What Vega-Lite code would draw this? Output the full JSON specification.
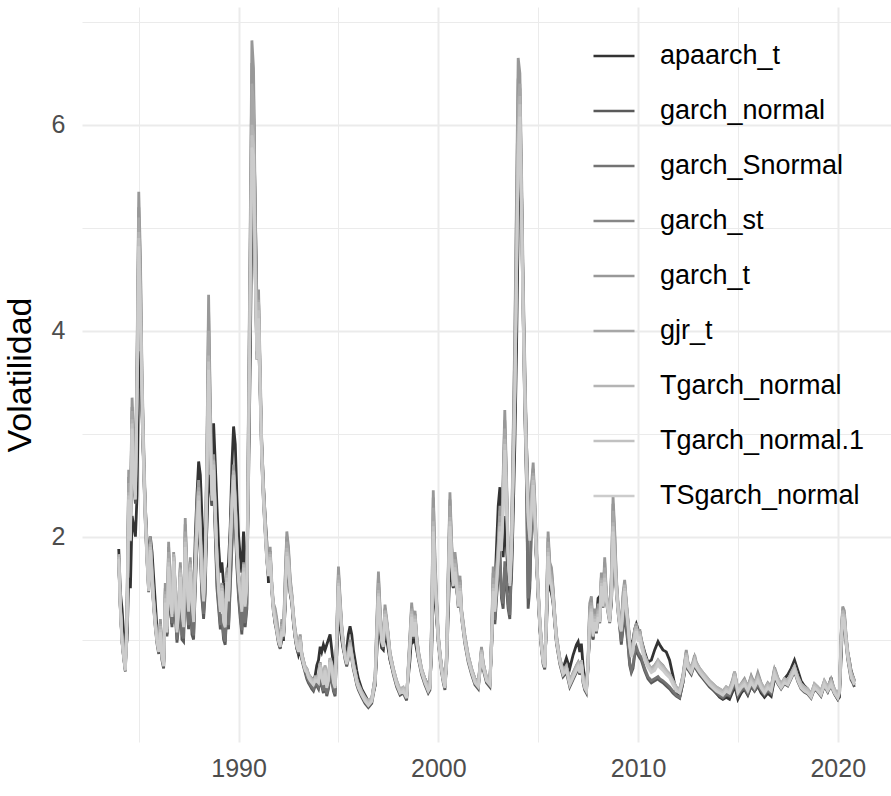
{
"$schema":"https://vega.github.io/schema/vega-lite/v6.json",
"width":809,"height":735,
"autosize":{"type":"none"},
"padding":{"left":82,"top":7,"right":0,"bottom":54},
"background":"white",
"config":{"font":"Liberation Sans","view":{"stroke":null}},
"datasets":{"names":[
{"k":"a","serie":"apaarch_t"},{"k":"n","serie":"garch_normal"},{"k":"s","serie":"garch_Snormal"},{"k":"p","serie":"garch_st"},{"k":"t","serie":"garch_t"},{"k":"j","serie":"gjr_t"},{"k":"g","serie":"Tgarch_normal"},{"k":"h","serie":"Tgarch_normal.1"},{"k":"i","serie":"TSgarch_normal"}]},
"data":{"format":{"parse":{"d":"date:'%Y-%m'"}},"values":[
{"d":"1984-01","a":1.88,"n":1.77,"s":1.79,"p":1.72,"t":1.75,"j":1.77,"g":1.83,"h":1.80,"i":1.78},
{"d":"1984-02","a":1.45,"n":1.27,"s":1.29,"p":1.28,"t":1.30,"j":1.30,"g":1.33,"h":1.30,"i":1.28},
{"d":"1984-03","a":1.30,"n":0.97,"s":0.99,"p":0.98,"t":1.00,"j":1.00,"g":1.03,"h":1.00,"i":0.98},
{"d":"1984-04","a":1.05,"n":0.82,"s":0.84,"p":0.81,"t":0.82,"j":0.84,"g":0.87,"h":0.85,"i":0.83},
{"d":"1984-05","a":0.85,"n":0.69,"s":0.71,"p":0.70,"t":0.70,"j":0.71,"g":0.74,"h":0.72,"i":0.70},
{"d":"1984-06","a":1.00,"n":1.17,"s":1.19,"p":1.35,"t":1.40,"j":1.30,"g":1.23,"h":1.20,"i":1.18},
{"d":"1984-07","a":1.60,"n":2.32,"s":2.37,"p":2.58,"t":2.65,"j":2.52,"g":2.43,"h":2.40,"i":2.36},
{"d":"1984-08","a":1.50,"n":1.95,"s":1.98,"p":2.24,"t":2.30,"j":2.15,"g":2.04,"h":2.00,"i":1.96},
{"d":"1984-09","a":2.20,"n":3.00,"s":3.06,"p":3.26,"t":3.35,"j":3.22,"g":3.14,"h":3.10,"i":3.05},
{"d":"1984-10","a":2.10,"n":2.52,"s":2.57,"p":2.83,"t":2.90,"j":2.75,"g":2.64,"h":2.60,"i":2.56},
{"d":"1984-11","a":2.00,"n":2.32,"s":2.37,"p":2.63,"t":2.70,"j":2.55,"g":2.44,"h":2.40,"i":2.36},
{"d":"1984-12","a":2.40,"n":3.30,"s":3.36,"p":3.70,"t":3.80,"j":3.60,"g":3.45,"h":3.40,"i":3.34},
{"d":"1985-01","a":3.60,"n":4.75,"s":4.84,"p":5.20,"t":5.35,"j":5.10,"g":4.96,"h":4.90,"i":4.82},
{"d":"1985-02","a":3.80,"n":4.08,"s":4.15,"p":4.60,"t":4.70,"j":4.45,"g":4.26,"h":4.20,"i":4.13},
{"d":"1985-03","a":3.20,"n":3.30,"s":3.36,"p":3.52,"t":3.60,"j":3.50,"g":3.45,"h":3.40,"i":3.34},
{"d":"1985-04","a":2.70,"n":2.62,"s":2.67,"p":2.84,"t":2.90,"j":2.80,"g":2.74,"h":2.70,"i":2.66},
{"d":"1985-05","a":2.30,"n":2.13,"s":2.17,"p":2.26,"t":2.30,"j":2.25,"g":2.23,"h":2.20,"i":2.17},
{"d":"1985-06","a":1.95,"n":1.76,"s":1.78,"p":1.87,"t":1.90,"j":1.85,"g":1.83,"h":1.80,"i":1.77},
{"d":"1985-07","a":1.80,"n":1.46,"s":1.48,"p":1.57,"t":1.60,"j":1.55,"g":1.53,"h":1.50,"i":1.47},
{"d":"1985-08","a":2.00,"n":1.86,"s":1.88,"p":1.96,"t":2.00,"j":1.95,"g":1.93,"h":1.90,"i":1.87},
{"d":"1985-09","a":1.85,"n":1.56,"s":1.58,"p":1.67,"t":1.70,"j":1.65,"g":1.63,"h":1.60,"i":1.57},
{"d":"1985-10","a":1.60,"n":1.31,"s":1.33,"p":1.38,"t":1.40,"j":1.38,"g":1.38,"h":1.35,"i":1.32},
{"d":"1985-11","a":1.35,"n":1.11,"s":1.13,"p":1.18,"t":1.20,"j":1.18,"g":1.18,"h":1.15,"i":1.12},
{"d":"1985-12","a":1.10,"n":0.96,"s":0.98,"p":0.99,"t":1.00,"j":1.00,"g":1.03,"h":1.00,"i":0.98},
{"d":"1986-01","a":0.95,"n":0.86,"s":0.88,"p":0.91,"t":0.92,"j":0.91,"g":0.93,"h":0.90,"i":0.88},
{"d":"1986-02","a":1.05,"n":1.05,"s":1.08,"p":1.17,"t":1.20,"j":1.15,"g":1.13,"h":1.10,"i":1.07},
{"d":"1986-03","a":0.85,"n":0.80,"s":0.82,"p":0.87,"t":0.88,"j":0.87,"g":0.88,"h":0.85,"i":0.83},
{"d":"1986-04","a":0.78,"n":0.72,"s":0.74,"p":0.77,"t":0.78,"j":0.77,"g":0.79,"h":0.76,"i":0.74},
{"d":"1986-05","a":1.20,"n":1.34,"s":1.37,"p":1.50,"t":1.55,"j":1.47,"g":1.44,"h":1.40,"i":1.36},
{"d":"1986-06","a":1.05,"n":1.03,"s":1.06,"p":1.13,"t":1.15,"j":1.12,"g":1.13,"h":1.10,"i":1.07},
{"d":"1986-07","a":1.45,"n":1.66,"s":1.70,"p":1.90,"t":1.95,"j":1.85,"g":1.79,"h":1.75,"i":1.71},
{"d":"1986-08","a":1.30,"n":1.30,"s":1.34,"p":1.47,"t":1.50,"j":1.45,"g":1.43,"h":1.40,"i":1.37},
{"d":"1986-09","a":1.15,"n":1.12,"s":1.16,"p":1.28,"t":1.30,"j":1.27,"g":1.28,"h":1.25,"i":1.22},
{"d":"1986-10","a":1.50,"n":1.62,"s":1.68,"p":1.82,"t":1.85,"j":1.82,"g":1.83,"h":1.80,"i":1.76},
{"d":"1986-11","a":1.30,"n":1.25,"s":1.30,"p":1.47,"t":1.50,"j":1.47,"g":1.48,"h":1.45,"i":1.41},
{"d":"1986-12","a":1.05,"n":0.97,"s":1.00,"p":1.13,"t":1.15,"j":1.12,"g":1.13,"h":1.10,"i":1.07},
{"d":"1987-01","a":1.25,"n":1.14,"s":1.18,"p":1.32,"t":1.35,"j":1.32,"g":1.33,"h":1.30,"i":1.27},
{"d":"1987-02","a":1.55,"n":1.45,"s":1.50,"p":1.71,"t":1.75,"j":1.70,"g":1.68,"h":1.65,"i":1.61},
{"d":"1987-03","a":1.25,"n":1.00,"s":1.05,"p":1.32,"t":1.35,"j":1.32,"g":1.33,"h":1.30,"i":1.27},
{"d":"1987-04","a":1.15,"n":0.98,"s":1.01,"p":1.18,"t":1.20,"j":1.17,"g":1.18,"h":1.15,"i":1.12},
{"d":"1987-05","a":1.65,"n":1.70,"s":1.77,"p":2.12,"t":2.18,"j":2.05,"g":1.99,"h":1.95,"i":1.90},
{"d":"1987-06","a":1.45,"n":1.35,"s":1.40,"p":1.66,"t":1.70,"j":1.65,"g":1.63,"h":1.60,"i":1.56},
{"d":"1987-07","a":1.30,"n":1.10,"s":1.14,"p":1.32,"t":1.35,"j":1.32,"g":1.33,"h":1.30,"i":1.27},
{"d":"1987-08","a":1.60,"n":1.45,"s":1.51,"p":1.76,"t":1.80,"j":1.75,"g":1.73,"h":1.70,"i":1.66},
{"d":"1987-09","a":1.35,"n":1.05,"s":1.10,"p":1.42,"t":1.45,"j":1.42,"g":1.43,"h":1.40,"i":1.37},
{"d":"1987-10","a":1.40,"n":1.00,"s":1.04,"p":1.27,"t":1.30,"j":1.25,"g":1.23,"h":1.20,"i":1.17},
{"d":"1987-11","a":2.00,"n":1.50,"s":1.56,"p":1.76,"t":1.80,"j":1.75,"g":1.73,"h":1.70,"i":1.66},
{"d":"1987-12","a":2.40,"n":1.90,"s":1.97,"p":2.25,"t":2.30,"j":2.20,"g":2.14,"h":2.10,"i":2.05},
{"d":"1988-01","a":2.73,"n":2.20,"s":2.28,"p":2.50,"t":2.55,"j":2.48,"g":2.44,"h":2.40,"i":2.35},
{"d":"1988-02","a":2.60,"n":1.85,"s":1.92,"p":2.06,"t":2.10,"j":2.05,"g":2.04,"h":2.00,"i":1.96},
{"d":"1988-03","a":2.20,"n":1.40,"s":1.45,"p":1.67,"t":1.70,"j":1.65,"g":1.63,"h":1.60,"i":1.56},
{"d":"1988-04","a":1.90,"n":1.20,"s":1.25,"p":1.42,"t":1.45,"j":1.42,"g":1.43,"h":1.40,"i":1.37},
{"d":"1988-05","a":1.70,"n":1.45,"s":1.51,"p":1.81,"t":1.85,"j":1.80,"g":1.78,"h":1.75,"i":1.71},
{"d":"1988-06","a":2.10,"n":2.30,"s":2.38,"p":2.82,"t":2.90,"j":2.75,"g":2.64,"h":2.60,"i":2.55},
{"d":"1988-07","a":2.60,"n":3.40,"s":3.52,"p":4.20,"t":4.35,"j":4.00,"g":3.76,"h":3.70,"i":3.62},
{"d":"1988-08","a":2.50,"n":2.80,"s":2.90,"p":3.22,"t":3.30,"j":3.15,"g":3.05,"h":3.00,"i":2.94},
{"d":"1988-09","a":2.30,"n":2.30,"s":2.38,"p":2.54,"t":2.60,"j":2.50,"g":2.44,"h":2.40,"i":2.35},
{"d":"1988-10","a":3.10,"n":2.50,"s":2.58,"p":2.75,"t":2.80,"j":2.75,"g":2.74,"h":2.70,"i":2.65},
{"d":"1988-11","a":2.70,"n":2.00,"s":2.07,"p":2.26,"t":2.30,"j":2.25,"g":2.24,"h":2.20,"i":2.16},
{"d":"1988-12","a":2.30,"n":1.50,"s":1.56,"p":1.82,"t":1.85,"j":1.82,"g":1.83,"h":1.80,"i":1.76},
{"d":"1989-01","a":1.90,"n":1.30,"s":1.35,"p":1.52,"t":1.55,"j":1.52,"g":1.53,"h":1.50,"i":1.47},
{"d":"1989-02","a":1.65,"n":1.10,"s":1.14,"p":1.32,"t":1.35,"j":1.32,"g":1.33,"h":1.30,"i":1.27},
{"d":"1989-03","a":1.75,"n":1.20,"s":1.25,"p":1.52,"t":1.55,"j":1.52,"g":1.53,"h":1.50,"i":1.47},
{"d":"1989-04","a":1.55,"n":1.00,"s":1.04,"p":1.22,"t":1.25,"j":1.22,"g":1.23,"h":1.20,"i":1.17},
{"d":"1989-05","a":1.40,"n":0.95,"s":0.98,"p":1.13,"t":1.15,"j":1.14,"g":1.18,"h":1.15,"i":1.12},
{"d":"1989-06","a":1.60,"n":1.30,"s":1.35,"p":1.66,"t":1.70,"j":1.65,"g":1.63,"h":1.60,"i":1.56},
{"d":"1989-07","a":1.75,"n":1.10,"s":1.14,"p":1.42,"t":1.45,"j":1.42,"g":1.43,"h":1.40,"i":1.37},
{"d":"1989-08","a":2.10,"n":1.50,"s":1.56,"p":1.96,"t":2.00,"j":1.95,"g":1.93,"h":1.90,"i":1.86},
{"d":"1989-09","a":2.70,"n":1.90,"s":1.97,"p":2.35,"t":2.40,"j":2.35,"g":2.34,"h":2.30,"i":2.25},
{"d":"1989-10","a":3.07,"n":2.30,"s":2.38,"p":2.65,"t":2.70,"j":2.65,"g":2.64,"h":2.60,"i":2.55},
{"d":"1989-11","a":2.90,"n":2.10,"s":2.18,"p":2.35,"t":2.40,"j":2.35,"g":2.34,"h":2.30,"i":2.25},
{"d":"1989-12","a":2.40,"n":1.70,"s":1.76,"p":1.92,"t":1.95,"j":1.92,"g":1.93,"h":1.90,"i":1.86},
{"d":"1990-01","a":2.00,"n":1.40,"s":1.45,"p":1.62,"t":1.65,"j":1.62,"g":1.63,"h":1.60,"i":1.57},
{"d":"1990-02","a":1.80,"n":1.20,"s":1.25,"p":1.47,"t":1.50,"j":1.47,"g":1.48,"h":1.45,"i":1.42},
{"d":"1990-03","a":1.65,"n":1.05,"s":1.09,"p":1.32,"t":1.35,"j":1.32,"g":1.33,"h":1.30,"i":1.27},
{"d":"1990-04","a":2.05,"n":1.40,"s":1.45,"p":1.72,"t":1.75,"j":1.72,"g":1.73,"h":1.70,"i":1.66},
{"d":"1990-05","a":1.75,"n":1.12,"s":1.16,"p":1.37,"t":1.40,"j":1.37,"g":1.38,"h":1.35,"i":1.32},
{"d":"1990-06","a":1.70,"n":1.30,"s":1.35,"p":1.57,"t":1.60,"j":1.57,"g":1.58,"h":1.55,"i":1.52},
{"d":"1990-07","a":2.50,"n":2.70,"s":2.76,"p":3.20,"t":3.30,"j":3.05,"g":2.86,"h":2.80,"i":2.74},
{"d":"1990-08","a":3.70,"n":4.25,"s":4.32,"p":4.85,"t":5.00,"j":4.70,"g":4.48,"h":4.40,"i":4.30},
{"d":"1990-09","a":5.20,"n":5.75,"s":5.85,"p":6.60,"t":6.82,"j":6.40,"g":6.00,"h":5.90,"i":5.78},
{"d":"1990-10","a":6.15,"n":5.70,"s":5.76,"p":6.35,"t":6.55,"j":6.20,"g":5.90,"h":5.80,"i":5.70},
{"d":"1990-11","a":5.20,"n":4.52,"s":4.57,"p":5.05,"t":5.20,"j":4.90,"g":4.70,"h":4.60,"i":4.50},
{"d":"1990-12","a":4.30,"n":3.72,"s":3.77,"p":4.10,"t":4.20,"j":4.00,"g":3.88,"h":3.80,"i":3.72},
{"d":"1991-01","a":3.90,"n":4.12,"s":4.17,"p":4.30,"t":4.40,"j":4.30,"g":4.28,"h":4.20,"i":4.12},
{"d":"1991-02","a":3.40,"n":3.32,"s":3.37,"p":3.52,"t":3.60,"j":3.50,"g":3.46,"h":3.40,"i":3.33},
{"d":"1991-03","a":2.90,"n":2.72,"s":2.77,"p":2.84,"t":2.90,"j":2.85,"g":2.85,"h":2.80,"i":2.74},
{"d":"1991-04","a":2.50,"n":2.33,"s":2.37,"p":2.45,"t":2.50,"j":2.45,"g":2.44,"h":2.40,"i":2.35},
{"d":"1991-05","a":2.20,"n":2.04,"s":2.08,"p":2.16,"t":2.20,"j":2.15,"g":2.14,"h":2.10,"i":2.06},
{"d":"1991-06","a":1.95,"n":1.76,"s":1.78,"p":1.82,"t":1.85,"j":1.82,"g":1.83,"h":1.80,"i":1.77},
{"d":"1991-07","a":1.55,"n":1.61,"s":1.63,"p":1.67,"t":1.70,"j":1.67,"g":1.68,"h":1.65,"i":1.62},
{"d":"1991-08","a":1.70,"n":1.76,"s":1.78,"p":1.86,"t":1.90,"j":1.85,"g":1.83,"h":1.80,"i":1.77},
{"d":"1991-09","a":1.50,"n":1.46,"s":1.48,"p":1.52,"t":1.55,"j":1.52,"g":1.53,"h":1.50,"i":1.47},
{"d":"1991-10","a":1.30,"n":1.26,"s":1.28,"p":1.32,"t":1.35,"j":1.32,"g":1.33,"h":1.30,"i":1.27},
{"d":"1991-11","a":1.15,"n":1.16,"s":1.18,"p":1.27,"t":1.30,"j":1.25,"g":1.23,"h":1.20,"i":1.17},
{"d":"1991-12","a":1.10,"n":1.06,"s":1.08,"p":1.17,"t":1.20,"j":1.15,"g":1.13,"h":1.10,"i":1.08},
{"d":"1992-01","a":0.98,"n":0.96,"s":0.98,"p":1.03,"t":1.05,"j":1.02,"g":1.03,"h":1.00,"i":0.98},
{"d":"1992-02","a":0.92,"n":0.91,"s":0.93,"p":0.98,"t":1.00,"j":0.97,"g":0.98,"h":0.95,"i":0.93},
{"d":"1992-03","a":1.00,"n":1.06,"s":1.08,"p":1.17,"t":1.20,"j":1.15,"g":1.13,"h":1.10,"i":1.08},
{"d":"1992-04","a":1.00,"n":1.01,"s":1.03,"p":1.08,"t":1.10,"j":1.07,"g":1.08,"h":1.05,"i":1.03},
{"d":"1992-05","a":1.30,"n":1.36,"s":1.38,"p":1.56,"t":1.60,"j":1.50,"g":1.44,"h":1.40,"i":1.37},
{"d":"1992-06","a":1.70,"n":1.80,"s":1.83,"p":2.00,"t":2.05,"j":1.95,"g":1.89,"h":1.85,"i":1.81},
{"d":"1992-07","a":1.65,"n":1.70,"s":1.73,"p":1.86,"t":1.90,"j":1.82,"g":1.79,"h":1.75,"i":1.71},
{"d":"1992-08","a":1.45,"n":1.46,"s":1.48,"p":1.57,"t":1.60,"j":1.55,"g":1.53,"h":1.50,"i":1.47},
{"d":"1992-09","a":1.35,"n":1.36,"s":1.38,"p":1.42,"t":1.45,"j":1.42,"g":1.43,"h":1.40,"i":1.37},
{"d":"1992-10","a":1.15,"n":1.16,"s":1.18,"p":1.23,"t":1.25,"j":1.22,"g":1.23,"h":1.20,"i":1.18},
{"d":"1992-11","a":1.02,"n":1.01,"s":1.03,"p":1.08,"t":1.10,"j":1.07,"g":1.08,"h":1.05,"i":1.03},
{"d":"1992-12","a":0.92,"n":0.91,"s":0.93,"p":0.98,"t":1.00,"j":0.97,"g":0.98,"h":0.95,"i":0.93},
{"d":"1993-01","a":0.85,"n":0.86,"s":0.88,"p":0.91,"t":0.92,"j":0.91,"g":0.92,"h":0.90,"i":0.88},
{"d":"1993-02","a":0.90,"n":0.96,"s":0.98,"p":1.03,"t":1.05,"j":1.02,"g":1.03,"h":1.00,"i":0.98},
{"d":"1993-03","a":0.82,"n":0.81,"s":0.83,"p":0.87,"t":0.88,"j":0.86,"g":0.87,"h":0.85,"i":0.83},
{"d":"1993-04","a":0.76,"n":0.74,"s":0.76,"p":0.79,"t":0.80,"j":0.79,"g":0.80,"h":0.78,"i":0.76},
{"d":"1993-05","a":0.72,"n":0.68,"s":0.70,"p":0.73,"t":0.74,"j":0.73,"g":0.74,"h":0.72,"i":0.70},
{"d":"1993-06","a":0.70,"n":0.62,"s":0.64,"p":0.71,"t":0.72,"j":0.71,"g":0.72,"h":0.70,"i":0.68},
{"d":"1993-07","a":0.66,"n":0.58,"s":0.60,"p":0.65,"t":0.66,"j":0.65,"g":0.67,"h":0.65,"i":0.63},
{"d":"1993-08","a":0.64,"n":0.55,"s":0.57,"p":0.61,"t":0.62,"j":0.62,"g":0.64,"h":0.62,"i":0.60},
{"d":"1993-09","a":0.62,"n":0.52,"s":0.54,"p":0.59,"t":0.60,"j":0.60,"g":0.62,"h":0.60,"i":0.58},
{"d":"1993-10","a":0.60,"n":0.50,"s":0.52,"p":0.57,"t":0.58,"j":0.58,"g":0.60,"h":0.58,"i":0.56},
{"d":"1993-11","a":0.65,"n":0.55,"s":0.57,"p":0.61,"t":0.62,"j":0.62,"g":0.64,"h":0.62,"i":0.60},
{"d":"1993-12","a":0.75,"n":0.55,"s":0.57,"p":0.61,"t":0.62,"j":0.62,"g":0.64,"h":0.62,"i":0.60},
{"d":"1994-01","a":0.80,"n":0.52,"s":0.54,"p":0.59,"t":0.60,"j":0.60,"g":0.62,"h":0.60,"i":0.58},
{"d":"1994-02","a":0.93,"n":0.62,"s":0.65,"p":0.76,"t":0.78,"j":0.76,"g":0.77,"h":0.75,"i":0.73},
{"d":"1994-03","a":0.88,"n":0.55,"s":0.57,"p":0.65,"t":0.66,"j":0.65,"g":0.67,"h":0.65,"i":0.63},
{"d":"1994-04","a":0.95,"n":0.48,"s":0.50,"p":0.57,"t":0.58,"j":0.58,"g":0.60,"h":0.58,"i":0.56},
{"d":"1994-05","a":0.90,"n":0.60,"s":0.62,"p":0.73,"t":0.75,"j":0.73,"g":0.74,"h":0.72,"i":0.70},
{"d":"1994-06","a":0.95,"n":0.45,"s":0.47,"p":0.54,"t":0.55,"j":0.55,"g":0.57,"h":0.55,"i":0.53},
{"d":"1994-07","a":1.00,"n":0.52,"s":0.54,"p":0.61,"t":0.62,"j":0.62,"g":0.64,"h":0.62,"i":0.60},
{"d":"1994-08","a":1.05,"n":0.65,"s":0.68,"p":0.80,"t":0.82,"j":0.80,"g":0.82,"h":0.80,"i":0.78},
{"d":"1994-09","a":0.90,"n":0.60,"s":0.62,"p":0.75,"t":0.76,"j":0.75,"g":0.77,"h":0.75,"i":0.73},
{"d":"1994-10","a":0.75,"n":0.50,"s":0.52,"p":0.59,"t":0.60,"j":0.60,"g":0.62,"h":0.60,"i":0.58},
{"d":"1994-11","a":0.65,"n":0.45,"s":0.47,"p":0.54,"t":0.55,"j":0.55,"g":0.57,"h":0.55,"i":0.53},
{"d":"1994-12","a":0.85,"n":0.95,"s":0.97,"p":1.07,"t":1.10,"j":1.05,"g":1.03,"h":1.00,"i":0.98},
{"d":"1995-01","a":1.20,"n":1.50,"s":1.53,"p":1.66,"t":1.71,"j":1.63,"g":1.58,"h":1.55,"i":1.52},
{"d":"1995-02","a":1.15,"n":1.26,"s":1.28,"p":1.37,"t":1.40,"j":1.35,"g":1.33,"h":1.30,"i":1.27},
{"d":"1995-03","a":1.00,"n":1.06,"s":1.08,"p":1.13,"t":1.15,"j":1.12,"g":1.13,"h":1.10,"i":1.08},
{"d":"1995-04","a":0.90,"n":0.91,"s":0.93,"p":0.96,"t":0.98,"j":0.96,"g":0.97,"h":0.95,"i":0.93},
{"d":"1995-05","a":0.85,"n":0.81,"s":0.83,"p":0.87,"t":0.88,"j":0.86,"g":0.87,"h":0.85,"i":0.83},
{"d":"1995-06","a":0.90,"n":0.74,"s":0.76,"p":0.79,"t":0.80,"j":0.79,"g":0.80,"h":0.78,"i":0.76},
{"d":"1995-07","a":1.05,"n":0.81,"s":0.83,"p":0.88,"t":0.90,"j":0.87,"g":0.87,"h":0.85,"i":0.83},
{"d":"1995-08","a":1.13,"n":0.91,"s":0.93,"p":0.98,"t":1.00,"j":0.97,"g":0.97,"h":0.95,"i":0.93},
{"d":"1995-09","a":1.05,"n":0.81,"s":0.83,"p":0.86,"t":0.88,"j":0.86,"g":0.87,"h":0.85,"i":0.83},
{"d":"1995-10","a":0.90,"n":0.71,"s":0.73,"p":0.77,"t":0.78,"j":0.76,"g":0.77,"h":0.75,"i":0.73},
{"d":"1995-11","a":0.80,"n":0.64,"s":0.66,"p":0.69,"t":0.70,"j":0.69,"g":0.70,"h":0.68,"i":0.66},
{"d":"1995-12","a":0.70,"n":0.56,"s":0.58,"p":0.61,"t":0.62,"j":0.61,"g":0.62,"h":0.60,"i":0.58},
{"d":"1996-01","a":0.62,"n":0.51,"s":0.53,"p":0.55,"t":0.56,"j":0.55,"g":0.57,"h":0.55,"i":0.53},
{"d":"1996-03","a":0.52,"n":0.44,"s":0.46,"p":0.48,"t":0.48,"j":0.48,"g":0.50,"h":0.48,"i":0.46},
{"d":"1996-05","a":0.46,"n":0.38,"s":0.40,"p":0.42,"t":0.42,"j":0.42,"g":0.44,"h":0.42,"i":0.40},
{"d":"1996-07","a":0.40,"n":0.34,"s":0.36,"p":0.38,"t":0.38,"j":0.38,"g":0.40,"h":0.38,"i":0.36},
{"d":"1996-09","a":0.43,"n":0.38,"s":0.40,"p":0.42,"t":0.42,"j":0.42,"g":0.44,"h":0.42,"i":0.40},
{"d":"1996-11","a":0.55,"n":0.56,"s":0.58,"p":0.64,"t":0.65,"j":0.63,"g":0.62,"h":0.60,"i":0.58},
{"d":"1996-12","a":0.85,"n":0.96,"s":0.98,"p":1.12,"t":1.15,"j":1.08,"g":1.03,"h":1.00,"i":0.98},
{"d":"1997-01","a":1.20,"n":1.40,"s":1.43,"p":1.61,"t":1.66,"j":1.55,"g":1.48,"h":1.45,"i":1.42},
{"d":"1997-02","a":1.05,"n":1.16,"s":1.18,"p":1.27,"t":1.30,"j":1.25,"g":1.23,"h":1.20,"i":1.17},
{"d":"1997-03","a":0.92,"n":0.96,"s":0.98,"p":1.03,"t":1.05,"j":1.02,"g":1.03,"h":1.00,"i":0.98},
{"d":"1997-04","a":0.90,"n":0.91,"s":0.93,"p":0.98,"t":1.00,"j":0.97,"g":0.97,"h":0.95,"i":0.93},
{"d":"1997-05","a":1.05,"n":1.21,"s":1.23,"p":1.30,"t":1.34,"j":1.29,"g":1.28,"h":1.25,"i":1.22},
{"d":"1997-06","a":1.00,"n":1.11,"s":1.13,"p":1.17,"t":1.20,"j":1.17,"g":1.18,"h":1.15,"i":1.12},
{"d":"1997-07","a":0.90,"n":0.96,"s":0.98,"p":1.03,"t":1.05,"j":1.02,"g":1.03,"h":1.00,"i":0.98},
{"d":"1997-08","a":0.80,"n":0.81,"s":0.83,"p":0.87,"t":0.88,"j":0.86,"g":0.87,"h":0.85,"i":0.83},
{"d":"1997-10","a":0.68,"n":0.66,"s":0.68,"p":0.71,"t":0.72,"j":0.71,"g":0.72,"h":0.70,"i":0.68},
{"d":"1997-12","a":0.58,"n":0.54,"s":0.56,"p":0.59,"t":0.60,"j":0.59,"g":0.60,"h":0.58,"i":0.56},
{"d":"1998-02","a":0.50,"n":0.46,"s":0.48,"p":0.50,"t":0.50,"j":0.50,"g":0.52,"h":0.50,"i":0.48},
{"d":"1998-04","a":0.52,"n":0.48,"s":0.50,"p":0.52,"t":0.52,"j":0.52,"g":0.54,"h":0.52,"i":0.50},
{"d":"1998-06","a":0.47,"n":0.41,"s":0.43,"p":0.45,"t":0.45,"j":0.45,"g":0.47,"h":0.45,"i":0.43},
{"d":"1998-08","a":0.80,"n":0.91,"s":0.93,"p":1.02,"t":1.05,"j":1.00,"g":0.97,"h":0.95,"i":0.93},
{"d":"1998-09","a":1.05,"n":1.21,"s":1.23,"p":1.32,"t":1.36,"j":1.30,"g":1.28,"h":1.25,"i":1.22},
{"d":"1998-10","a":0.98,"n":1.01,"s":1.03,"p":1.10,"t":1.12,"j":1.09,"g":1.08,"h":1.05,"i":1.03},
{"d":"1998-11","a":1.00,"n":1.16,"s":1.18,"p":1.25,"t":1.28,"j":1.24,"g":1.23,"h":1.20,"i":1.17},
{"d":"1998-12","a":0.90,"n":0.96,"s":0.98,"p":1.03,"t":1.05,"j":1.02,"g":1.03,"h":1.00,"i":0.98},
{"d":"1999-01","a":0.82,"n":0.81,"s":0.83,"p":0.88,"t":0.90,"j":0.88,"g":0.88,"h":0.85,"i":0.83},
{"d":"1999-03","a":0.70,"n":0.66,"s":0.68,"p":0.71,"t":0.72,"j":0.71,"g":0.72,"h":0.70,"i":0.68},
{"d":"1999-05","a":0.62,"n":0.56,"s":0.58,"p":0.61,"t":0.62,"j":0.61,"g":0.62,"h":0.60,"i":0.58},
{"d":"1999-07","a":0.55,"n":0.48,"s":0.50,"p":0.53,"t":0.53,"j":0.53,"g":0.54,"h":0.52,"i":0.50},
{"d":"1999-08","a":0.58,"n":0.51,"s":0.53,"p":0.56,"t":0.56,"j":0.56,"g":0.57,"h":0.55,"i":0.53},
{"d":"1999-09","a":0.85,"n":0.96,"s":0.98,"p":1.16,"t":1.20,"j":1.10,"g":1.03,"h":1.00,"i":0.98},
{"d":"1999-10","a":1.50,"n":2.02,"s":2.06,"p":2.38,"t":2.45,"j":2.28,"g":2.15,"h":2.10,"i":2.05},
{"d":"1999-11","a":1.40,"n":1.55,"s":1.58,"p":1.75,"t":1.80,"j":1.70,"g":1.64,"h":1.60,"i":1.56},
{"d":"1999-12","a":1.20,"n":1.26,"s":1.28,"p":1.37,"t":1.40,"j":1.35,"g":1.33,"h":1.30,"i":1.27},
{"d":"2000-01","a":0.98,"n":0.96,"s":0.98,"p":1.03,"t":1.05,"j":1.02,"g":1.03,"h":1.00,"i":0.98},
{"d":"2000-02","a":0.85,"n":0.81,"s":0.83,"p":0.87,"t":0.88,"j":0.86,"g":0.87,"h":0.85,"i":0.83},
{"d":"2000-03","a":0.74,"n":0.68,"s":0.70,"p":0.73,"t":0.74,"j":0.73,"g":0.74,"h":0.72,"i":0.70},
{"d":"2000-04","a":0.64,"n":0.58,"s":0.60,"p":0.62,"t":0.63,"j":0.62,"g":0.64,"h":0.62,"i":0.60},
{"d":"2000-05","a":0.58,"n":0.51,"s":0.53,"p":0.55,"t":0.55,"j":0.55,"g":0.57,"h":0.55,"i":0.53},
{"d":"2000-06","a":0.75,"n":0.76,"s":0.78,"p":0.86,"t":0.88,"j":0.84,"g":0.82,"h":0.80,"i":0.78},
{"d":"2000-07","a":1.25,"n":1.45,"s":1.48,"p":1.65,"t":1.70,"j":1.60,"g":1.53,"h":1.50,"i":1.47},
{"d":"2000-08","a":1.70,"n":2.07,"s":2.11,"p":2.36,"t":2.43,"j":2.30,"g":2.19,"h":2.15,"i":2.10},
{"d":"2000-09","a":1.60,"n":1.75,"s":1.78,"p":1.90,"t":1.95,"j":1.88,"g":1.84,"h":1.80,"i":1.76},
{"d":"2000-10","a":1.50,"n":1.51,"s":1.53,"p":1.61,"t":1.65,"j":1.60,"g":1.58,"h":1.55,"i":1.52},
{"d":"2000-11","a":1.60,"n":1.66,"s":1.68,"p":1.80,"t":1.85,"j":1.78,"g":1.74,"h":1.70,"i":1.66},
{"d":"2000-12","a":1.50,"n":1.51,"s":1.53,"p":1.66,"t":1.70,"j":1.63,"g":1.58,"h":1.55,"i":1.52},
{"d":"2001-01","a":1.35,"n":1.31,"s":1.33,"p":1.42,"t":1.45,"j":1.40,"g":1.38,"h":1.35,"i":1.32},
{"d":"2001-02","a":1.40,"n":1.46,"s":1.48,"p":1.58,"t":1.62,"j":1.56,"g":1.53,"h":1.50,"i":1.47},
{"d":"2001-03","a":1.25,"n":1.21,"s":1.23,"p":1.28,"t":1.30,"j":1.28,"g":1.28,"h":1.25,"i":1.22},
{"d":"2001-05","a":1.00,"n":0.96,"s":0.98,"p":1.03,"t":1.05,"j":1.02,"g":1.03,"h":1.00,"i":0.98},
{"d":"2001-07","a":0.82,"n":0.78,"s":0.80,"p":0.84,"t":0.85,"j":0.84,"g":0.85,"h":0.82,"i":0.80},
{"d":"2001-09","a":0.70,"n":0.66,"s":0.68,"p":0.71,"t":0.72,"j":0.71,"g":0.72,"h":0.70,"i":0.68},
{"d":"2001-11","a":0.62,"n":0.56,"s":0.58,"p":0.61,"t":0.62,"j":0.61,"g":0.62,"h":0.60,"i":0.58},
{"d":"2002-01","a":0.58,"n":0.52,"s":0.54,"p":0.56,"t":0.57,"j":0.56,"g":0.58,"h":0.56,"i":0.54},
{"d":"2002-03","a":0.82,"n":0.84,"s":0.86,"p":0.91,"t":0.93,"j":0.90,"g":0.90,"h":0.88,"i":0.86},
{"d":"2002-04","a":0.72,"n":0.71,"s":0.73,"p":0.77,"t":0.78,"j":0.76,"g":0.77,"h":0.75,"i":0.73},
{"d":"2002-06","a":0.62,"n":0.58,"s":0.60,"p":0.62,"t":0.63,"j":0.62,"g":0.64,"h":0.62,"i":0.60},
{"d":"2002-08","a":0.60,"n":0.54,"s":0.56,"p":0.58,"t":0.59,"j":0.58,"g":0.60,"h":0.58,"i":0.56},
{"d":"2002-09","a":0.90,"n":0.91,"s":0.93,"p":1.02,"t":1.05,"j":1.00,"g":0.98,"h":0.95,"i":0.93},
{"d":"2002-10","a":1.40,"n":1.45,"s":1.48,"p":1.65,"t":1.71,"j":1.60,"g":1.54,"h":1.50,"i":1.47},
{"d":"2002-11","a":1.50,"n":1.15,"s":1.19,"p":1.37,"t":1.40,"j":1.35,"g":1.33,"h":1.30,"i":1.27},
{"d":"2002-12","a":1.90,"n":1.40,"s":1.45,"p":1.65,"t":1.70,"j":1.62,"g":1.58,"h":1.55,"i":1.52},
{"d":"2003-01","a":2.30,"n":1.60,"s":1.66,"p":1.90,"t":1.95,"j":1.87,"g":1.84,"h":1.80,"i":1.76},
{"d":"2003-02","a":2.48,"n":1.80,"s":1.86,"p":2.25,"t":2.30,"j":2.20,"g":2.14,"h":2.10,"i":2.05},
{"d":"2003-03","a":2.10,"n":1.40,"s":1.45,"p":1.95,"t":2.00,"j":1.95,"g":1.94,"h":1.90,"i":1.86},
{"d":"2003-04","a":1.80,"n":1.30,"s":1.35,"p":2.52,"t":2.60,"j":2.45,"g":2.34,"h":2.30,"i":2.25},
{"d":"2003-05","a":2.20,"n":1.70,"s":1.76,"p":3.13,"t":3.23,"j":3.05,"g":2.95,"h":2.90,"i":2.84},
{"d":"2003-06","a":1.90,"n":1.50,"s":1.56,"p":2.53,"t":2.60,"j":2.50,"g":2.44,"h":2.40,"i":2.35},
{"d":"2003-07","a":1.60,"n":1.30,"s":1.35,"p":1.86,"t":1.90,"j":1.85,"g":1.84,"h":1.80,"i":1.76},
{"d":"2003-08","a":1.45,"n":1.20,"s":1.24,"p":1.57,"t":1.60,"j":1.57,"g":1.58,"h":1.55,"i":1.52},
{"d":"2003-09","a":1.60,"n":1.70,"s":1.75,"p":1.95,"t":2.00,"j":1.95,"g":1.93,"h":1.90,"i":1.86},
{"d":"2003-10","a":2.20,"n":2.45,"s":2.50,"p":2.92,"t":3.00,"j":2.80,"g":2.65,"h":2.60,"i":2.55},
{"d":"2003-11","a":2.90,"n":3.30,"s":3.36,"p":3.88,"t":4.00,"j":3.70,"g":3.46,"h":3.40,"i":3.33},
{"d":"2003-12","a":3.80,"n":4.40,"s":4.46,"p":5.15,"t":5.30,"j":4.90,"g":4.58,"h":4.50,"i":4.41},
{"d":"2004-01","a":5.00,"n":5.65,"s":5.72,"p":6.45,"t":6.65,"j":6.20,"g":5.90,"h":5.80,"i":5.68},
{"d":"2004-02","a":6.10,"n":6.08,"s":6.14,"p":6.35,"t":6.50,"j":6.40,"g":6.28,"h":6.20,"i":6.08},
{"d":"2004-03","a":5.40,"n":5.12,"s":5.16,"p":5.45,"t":5.60,"j":5.40,"g":5.28,"h":5.20,"i":5.10},
{"d":"2004-04","a":4.30,"n":4.12,"s":4.16,"p":4.40,"t":4.50,"j":4.35,"g":4.26,"h":4.20,"i":4.12},
{"d":"2004-05","a":3.50,"n":3.20,"s":3.26,"p":3.62,"t":3.70,"j":3.55,"g":3.46,"h":3.40,"i":3.33},
{"d":"2004-06","a":2.90,"n":2.50,"s":2.56,"p":2.84,"t":2.90,"j":2.80,"g":2.75,"h":2.70,"i":2.65},
{"d":"2004-07","a":2.40,"n":1.30,"s":1.40,"p":2.25,"t":2.30,"j":2.25,"g":2.24,"h":2.20,"i":2.16},
{"d":"2004-08","a":2.00,"n":1.50,"s":1.58,"p":2.06,"t":2.10,"j":2.05,"g":2.04,"h":2.00,"i":1.96},
{"d":"2004-09","a":2.20,"n":2.12,"s":2.17,"p":2.45,"t":2.50,"j":2.40,"g":2.34,"h":2.30,"i":2.25},
{"d":"2004-10","a":2.40,"n":2.42,"s":2.47,"p":2.66,"t":2.72,"j":2.62,"g":2.59,"h":2.55,"i":2.50},
{"d":"2004-11","a":2.10,"n":2.12,"s":2.16,"p":2.30,"t":2.35,"j":2.28,"g":2.24,"h":2.20,"i":2.16},
{"d":"2004-12","a":1.75,"n":1.76,"s":1.78,"p":1.86,"t":1.90,"j":1.85,"g":1.83,"h":1.80,"i":1.77},
{"d":"2005-01","a":1.40,"n":1.41,"s":1.43,"p":1.47,"t":1.50,"j":1.47,"g":1.48,"h":1.45,"i":1.42},
{"d":"2005-02","a":1.10,"n":1.11,"s":1.13,"p":1.18,"t":1.20,"j":1.17,"g":1.18,"h":1.15,"i":1.13},
{"d":"2005-03","a":0.92,"n":0.91,"s":0.93,"p":0.98,"t":1.00,"j":0.97,"g":0.97,"h":0.95,"i":0.93},
{"d":"2005-04","a":0.80,"n":0.76,"s":0.78,"p":0.81,"t":0.82,"j":0.81,"g":0.82,"h":0.80,"i":0.78},
{"d":"2005-05","a":0.78,"n":0.71,"s":0.73,"p":0.75,"t":0.76,"j":0.75,"g":0.77,"h":0.75,"i":0.73},
{"d":"2005-06","a":1.10,"n":1.16,"s":1.18,"p":1.31,"t":1.35,"j":1.28,"g":1.23,"h":1.20,"i":1.17},
{"d":"2005-07","a":1.60,"n":1.80,"s":1.83,"p":1.99,"t":2.05,"j":1.95,"g":1.89,"h":1.85,"i":1.81},
{"d":"2005-08","a":1.50,"n":1.56,"s":1.58,"p":1.71,"t":1.75,"j":1.68,"g":1.64,"h":1.60,"i":1.56},
{"d":"2005-09","a":1.45,"n":1.51,"s":1.53,"p":1.66,"t":1.70,"j":1.62,"g":1.58,"h":1.55,"i":1.52},
{"d":"2005-10","a":1.35,"n":1.36,"s":1.38,"p":1.47,"t":1.50,"j":1.45,"g":1.43,"h":1.40,"i":1.37},
{"d":"2005-11","a":1.15,"n":1.16,"s":1.18,"p":1.23,"t":1.25,"j":1.22,"g":1.23,"h":1.20,"i":1.17},
{"d":"2005-12","a":0.98,"n":0.96,"s":0.98,"p":1.03,"t":1.05,"j":1.02,"g":1.03,"h":1.00,"i":0.98},
{"d":"2006-02","a":0.80,"n":0.76,"s":0.78,"p":0.81,"t":0.82,"j":0.81,"g":0.82,"h":0.80,"i":0.78},
{"d":"2006-04","a":0.72,"n":0.64,"s":0.66,"p":0.69,"t":0.70,"j":0.69,"g":0.70,"h":0.68,"i":0.66},
{"d":"2006-06","a":0.82,"n":0.68,"s":0.70,"p":0.74,"t":0.75,"j":0.73,"g":0.74,"h":0.72,"i":0.70},
{"d":"2006-08","a":0.72,"n":0.54,"s":0.56,"p":0.59,"t":0.60,"j":0.59,"g":0.60,"h":0.58,"i":0.56},
{"d":"2006-10","a":0.85,"n":0.61,"s":0.63,"p":0.67,"t":0.68,"j":0.67,"g":0.67,"h":0.65,"i":0.63},
{"d":"2006-12","a":0.95,"n":0.68,"s":0.70,"p":0.74,"t":0.75,"j":0.73,"g":0.74,"h":0.72,"i":0.70},
{"d":"2007-01","a":0.98,"n":0.71,"s":0.73,"p":0.77,"t":0.78,"j":0.76,"g":0.77,"h":0.75,"i":0.73},
{"d":"2007-02","a":0.88,"n":0.66,"s":0.68,"p":0.71,"t":0.72,"j":0.71,"g":0.72,"h":0.70,"i":0.68},
{"d":"2007-03","a":0.96,"n":0.74,"s":0.76,"p":0.79,"t":0.80,"j":0.78,"g":0.80,"h":0.78,"i":0.76},
{"d":"2007-04","a":0.75,"n":0.58,"s":0.60,"p":0.63,"t":0.64,"j":0.63,"g":0.64,"h":0.62,"i":0.60},
{"d":"2007-05","a":0.62,"n":0.51,"s":0.53,"p":0.55,"t":0.56,"j":0.55,"g":0.57,"h":0.55,"i":0.53},
{"d":"2007-06","a":0.58,"n":0.48,"s":0.50,"p":0.52,"t":0.53,"j":0.52,"g":0.54,"h":0.52,"i":0.50},
{"d":"2007-07","a":0.75,"n":0.71,"s":0.73,"p":0.78,"t":0.80,"j":0.77,"g":0.77,"h":0.75,"i":0.73},
{"d":"2007-08","a":1.05,"n":1.16,"s":1.18,"p":1.31,"t":1.35,"j":1.28,"g":1.23,"h":1.20,"i":1.17},
{"d":"2007-09","a":1.15,"n":1.26,"s":1.28,"p":1.38,"t":1.42,"j":1.36,"g":1.33,"h":1.30,"i":1.27},
{"d":"2007-10","a":1.00,"n":1.01,"s":1.03,"p":1.08,"t":1.10,"j":1.07,"g":1.08,"h":1.05,"i":1.03},
{"d":"2007-11","a":1.25,"n":1.16,"s":1.18,"p":1.27,"t":1.30,"j":1.25,"g":1.23,"h":1.20,"i":1.17},
{"d":"2007-12","a":1.20,"n":1.06,"s":1.08,"p":1.13,"t":1.15,"j":1.12,"g":1.13,"h":1.10,"i":1.08},
{"d":"2008-01","a":1.40,"n":1.21,"s":1.23,"p":1.32,"t":1.35,"j":1.30,"g":1.28,"h":1.25,"i":1.22},
{"d":"2008-02","a":1.42,"n":1.16,"s":1.18,"p":1.23,"t":1.25,"j":1.22,"g":1.23,"h":1.20,"i":1.17},
{"d":"2008-03","a":1.45,"n":1.51,"s":1.53,"p":1.61,"t":1.65,"j":1.60,"g":1.58,"h":1.55,"i":1.52},
{"d":"2008-04","a":1.35,"n":1.31,"s":1.33,"p":1.37,"t":1.40,"j":1.37,"g":1.38,"h":1.35,"i":1.32},
{"d":"2008-05","a":1.50,"n":1.56,"s":1.58,"p":1.75,"t":1.80,"j":1.70,"g":1.64,"h":1.60,"i":1.56},
{"d":"2008-06","a":1.40,"n":1.36,"s":1.38,"p":1.42,"t":1.45,"j":1.42,"g":1.43,"h":1.40,"i":1.37},
{"d":"2008-07","a":1.30,"n":1.26,"s":1.28,"p":1.32,"t":1.35,"j":1.32,"g":1.33,"h":1.30,"i":1.27},
{"d":"2008-08","a":1.20,"n":1.16,"s":1.18,"p":1.23,"t":1.25,"j":1.22,"g":1.23,"h":1.20,"i":1.17},
{"d":"2008-09","a":1.35,"n":1.41,"s":1.43,"p":1.61,"t":1.65,"j":1.55,"g":1.49,"h":1.45,"i":1.42},
{"d":"2008-10","a":1.80,"n":2.02,"s":2.06,"p":2.32,"t":2.39,"j":2.25,"g":2.14,"h":2.10,"i":2.05},
{"d":"2008-11","a":1.75,"n":1.76,"s":1.78,"p":1.99,"t":2.05,"j":1.92,"g":1.84,"h":1.80,"i":1.76},
{"d":"2008-12","a":1.50,"n":1.46,"s":1.48,"p":1.57,"t":1.60,"j":1.55,"g":1.53,"h":1.50,"i":1.47},
{"d":"2009-01","a":1.30,"n":1.26,"s":1.28,"p":1.32,"t":1.35,"j":1.32,"g":1.33,"h":1.30,"i":1.27},
{"d":"2009-02","a":1.15,"n":1.11,"s":1.13,"p":1.18,"t":1.20,"j":1.17,"g":1.18,"h":1.15,"i":1.13},
{"d":"2009-03","a":1.05,"n":0.95,"s":0.98,"p":1.13,"t":1.15,"j":1.12,"g":1.13,"h":1.10,"i":1.08},
{"d":"2009-04","a":1.25,"n":1.10,"s":1.14,"p":1.41,"t":1.45,"j":1.38,"g":1.33,"h":1.30,"i":1.27},
{"d":"2009-05","a":1.45,"n":1.30,"s":1.35,"p":1.54,"t":1.58,"j":1.54,"g":1.53,"h":1.50,"i":1.47},
{"d":"2009-06","a":1.30,"n":1.10,"s":1.14,"p":1.35,"t":1.38,"j":1.34,"g":1.33,"h":1.30,"i":1.27},
{"d":"2009-07","a":1.15,"n":0.95,"s":0.98,"p":1.17,"t":1.20,"j":1.17,"g":1.18,"h":1.15,"i":1.13},
{"d":"2009-08","a":1.00,"n":0.75,"s":0.78,"p":0.98,"t":1.00,"j":0.97,"g":0.97,"h":0.95,"i":0.93},
{"d":"2009-09","a":0.95,"n":0.68,"s":0.70,"p":0.88,"t":0.90,"j":0.87,"g":0.87,"h":0.85,"i":0.83},
{"d":"2009-10","a":1.00,"n":0.72,"s":0.75,"p":0.93,"t":0.95,"j":0.92,"g":0.92,"h":0.90,"i":0.88},
{"d":"2009-11","a":1.10,"n":0.85,"s":0.88,"p":1.08,"t":1.10,"j":1.07,"g":1.08,"h":1.05,"i":1.03},
{"d":"2009-12","a":1.15,"n":0.90,"s":0.93,"p":1.13,"t":1.16,"j":1.13,"g":1.13,"h":1.10,"i":1.08},
{"d":"2010-01","a":1.10,"n":0.85,"s":0.88,"p":1.03,"t":1.05,"j":1.02,"g":1.03,"h":1.00,"i":0.98},
{"d":"2010-02","a":1.08,"n":0.82,"s":0.85,"p":1.08,"t":1.10,"j":1.07,"g":1.08,"h":1.05,"i":1.03},
{"d":"2010-03","a":1.00,"n":0.80,"s":0.83,"p":0.98,"t":1.00,"j":0.97,"g":0.98,"h":0.95,"i":0.93},
{"d":"2010-05","a":0.88,"n":0.70,"s":0.72,"p":0.84,"t":0.85,"j":0.84,"g":0.85,"h":0.82,"i":0.80},
{"d":"2010-07","a":0.78,"n":0.62,"s":0.64,"p":0.75,"t":0.76,"j":0.75,"g":0.77,"h":0.75,"i":0.73},
{"d":"2010-09","a":0.80,"n":0.58,"s":0.60,"p":0.71,"t":0.72,"j":0.71,"g":0.72,"h":0.70,"i":0.68},
{"d":"2010-11","a":0.90,"n":0.60,"s":0.62,"p":0.74,"t":0.75,"j":0.73,"g":0.74,"h":0.72,"i":0.70},
{"d":"2011-01","a":0.98,"n":0.62,"s":0.64,"p":0.79,"t":0.80,"j":0.78,"g":0.80,"h":0.78,"i":0.76},
{"d":"2011-02","a":0.95,"n":0.60,"s":0.62,"p":0.77,"t":0.78,"j":0.76,"g":0.77,"h":0.75,"i":0.73},
{"d":"2011-04","a":0.90,"n":0.58,"s":0.60,"p":0.74,"t":0.75,"j":0.73,"g":0.74,"h":0.72,"i":0.70},
{"d":"2011-06","a":0.88,"n":0.55,"s":0.57,"p":0.69,"t":0.70,"j":0.69,"g":0.70,"h":0.68,"i":0.66},
{"d":"2011-08","a":0.80,"n":0.52,"s":0.54,"p":0.65,"t":0.66,"j":0.65,"g":0.67,"h":0.65,"i":0.63},
{"d":"2011-10","a":0.65,"n":0.48,"s":0.50,"p":0.59,"t":0.60,"j":0.59,"g":0.60,"h":0.58,"i":0.56},
{"d":"2011-12","a":0.48,"n":0.45,"s":0.46,"p":0.53,"t":0.54,"j":0.53,"g":0.54,"h":0.52,"i":0.50},
{"d":"2012-02","a":0.44,"n":0.43,"s":0.44,"p":0.50,"t":0.51,"j":0.50,"g":0.52,"h":0.50,"i":0.48},
{"d":"2012-04","a":0.58,"n":0.58,"s":0.60,"p":0.65,"t":0.66,"j":0.64,"g":0.64,"h":0.62,"i":0.60},
{"d":"2012-06","a":0.80,"n":0.81,"s":0.83,"p":0.88,"t":0.90,"j":0.87,"g":0.87,"h":0.85,"i":0.83},
{"d":"2012-07","a":0.72,"n":0.71,"s":0.73,"p":0.77,"t":0.78,"j":0.76,"g":0.77,"h":0.75,"i":0.73},
{"d":"2012-09","a":0.68,"n":0.66,"s":0.68,"p":0.71,"t":0.72,"j":0.71,"g":0.72,"h":0.70,"i":0.68},
{"d":"2012-11","a":0.78,"n":0.76,"s":0.78,"p":0.83,"t":0.85,"j":0.82,"g":0.82,"h":0.80,"i":0.78},
{"d":"2012-12","a":0.74,"n":0.71,"s":0.73,"p":0.77,"t":0.78,"j":0.76,"g":0.77,"h":0.75,"i":0.73},
{"d":"2013-02","a":0.70,"n":0.66,"s":0.68,"p":0.71,"t":0.72,"j":0.71,"g":0.72,"h":0.70,"i":0.68},
{"d":"2013-04","a":0.66,"n":0.62,"s":0.64,"p":0.67,"t":0.68,"j":0.67,"g":0.68,"h":0.66,"i":0.64},
{"d":"2013-06","a":0.60,"n":0.58,"s":0.60,"p":0.63,"t":0.64,"j":0.63,"g":0.64,"h":0.62,"i":0.60},
{"d":"2013-08","a":0.56,"n":0.54,"s":0.56,"p":0.59,"t":0.60,"j":0.59,"g":0.60,"h":0.58,"i":0.56},
{"d":"2013-10","a":0.52,"n":0.51,"s":0.53,"p":0.56,"t":0.57,"j":0.56,"g":0.57,"h":0.55,"i":0.53},
{"d":"2013-12","a":0.48,"n":0.48,"s":0.50,"p":0.53,"t":0.54,"j":0.53,"g":0.54,"h":0.52,"i":0.50},
{"d":"2014-02","a":0.44,"n":0.45,"s":0.46,"p":0.51,"t":0.52,"j":0.51,"g":0.52,"h":0.50,"i":0.48},
{"d":"2014-04","a":0.42,"n":0.43,"s":0.44,"p":0.49,"t":0.50,"j":0.49,"g":0.50,"h":0.48,"i":0.46},
{"d":"2014-06","a":0.44,"n":0.46,"s":0.47,"p":0.53,"t":0.54,"j":0.53,"g":0.54,"h":0.52,"i":0.50},
{"d":"2014-08","a":0.42,"n":0.45,"s":0.46,"p":0.51,"t":0.52,"j":0.51,"g":0.52,"h":0.50,"i":0.48},
{"d":"2014-10","a":0.50,"n":0.52,"s":0.54,"p":0.61,"t":0.62,"j":0.60,"g":0.60,"h":0.58,"i":0.56},
{"d":"2014-11","a":0.56,"n":0.58,"s":0.60,"p":0.68,"t":0.69,"j":0.67,"g":0.68,"h":0.66,"i":0.64},
{"d":"2015-01","a":0.42,"n":0.45,"s":0.46,"p":0.51,"t":0.52,"j":0.51,"g":0.52,"h":0.50,"i":0.48},
{"d":"2015-03","a":0.48,"n":0.50,"s":0.51,"p":0.56,"t":0.57,"j":0.56,"g":0.57,"h":0.55,"i":0.53},
{"d":"2015-05","a":0.52,"n":0.52,"s":0.54,"p":0.61,"t":0.62,"j":0.60,"g":0.60,"h":0.58,"i":0.56},
{"d":"2015-07","a":0.46,"n":0.47,"s":0.48,"p":0.53,"t":0.54,"j":0.53,"g":0.54,"h":0.52,"i":0.50},
{"d":"2015-09","a":0.55,"n":0.55,"s":0.57,"p":0.64,"t":0.65,"j":0.63,"g":0.62,"h":0.60,"i":0.58},
{"d":"2015-11","a":0.50,"n":0.50,"s":0.51,"p":0.56,"t":0.57,"j":0.56,"g":0.57,"h":0.55,"i":0.53},
{"d":"2016-01","a":0.55,"n":0.55,"s":0.57,"p":0.66,"t":0.68,"j":0.65,"g":0.64,"h":0.62,"i":0.60},
{"d":"2016-03","a":0.48,"n":0.50,"s":0.51,"p":0.57,"t":0.58,"j":0.57,"g":0.57,"h":0.55,"i":0.53},
{"d":"2016-05","a":0.44,"n":0.46,"s":0.47,"p":0.51,"t":0.52,"j":0.51,"g":0.52,"h":0.50,"i":0.48},
{"d":"2016-07","a":0.48,"n":0.50,"s":0.51,"p":0.57,"t":0.58,"j":0.57,"g":0.57,"h":0.55,"i":0.53},
{"d":"2016-09","a":0.45,"n":0.47,"s":0.48,"p":0.53,"t":0.54,"j":0.53,"g":0.54,"h":0.52,"i":0.50},
{"d":"2016-11","a":0.62,"n":0.64,"s":0.66,"p":0.71,"t":0.73,"j":0.70,"g":0.70,"h":0.68,"i":0.66},
{"d":"2017-01","a":0.58,"n":0.57,"s":0.59,"p":0.62,"t":0.63,"j":0.62,"g":0.62,"h":0.60,"i":0.58},
{"d":"2017-03","a":0.55,"n":0.52,"s":0.54,"p":0.56,"t":0.57,"j":0.56,"g":0.57,"h":0.55,"i":0.53},
{"d":"2017-05","a":0.62,"n":0.57,"s":0.59,"p":0.61,"t":0.62,"j":0.61,"g":0.62,"h":0.60,"i":0.58},
{"d":"2017-07","a":0.66,"n":0.55,"s":0.57,"p":0.59,"t":0.60,"j":0.59,"g":0.60,"h":0.58,"i":0.56},
{"d":"2017-09","a":0.72,"n":0.62,"s":0.64,"p":0.67,"t":0.68,"j":0.67,"g":0.67,"h":0.65,"i":0.63},
{"d":"2017-11","a":0.80,"n":0.69,"s":0.71,"p":0.73,"t":0.74,"j":0.73,"g":0.74,"h":0.72,"i":0.70},
{"d":"2018-01","a":0.70,"n":0.59,"s":0.61,"p":0.63,"t":0.64,"j":0.63,"g":0.64,"h":0.62,"i":0.60},
{"d":"2018-03","a":0.60,"n":0.52,"s":0.54,"p":0.56,"t":0.57,"j":0.56,"g":0.57,"h":0.55,"i":0.53},
{"d":"2018-05","a":0.55,"n":0.49,"s":0.51,"p":0.53,"t":0.54,"j":0.53,"g":0.54,"h":0.52,"i":0.50},
{"d":"2018-07","a":0.52,"n":0.47,"s":0.49,"p":0.51,"t":0.52,"j":0.51,"g":0.52,"h":0.50,"i":0.48},
{"d":"2018-09","a":0.45,"n":0.43,"s":0.45,"p":0.47,"t":0.47,"j":0.47,"g":0.48,"h":0.46,"i":0.44},
{"d":"2018-11","a":0.52,"n":0.52,"s":0.54,"p":0.56,"t":0.57,"j":0.56,"g":0.57,"h":0.55,"i":0.53},
{"d":"2019-01","a":0.50,"n":0.49,"s":0.51,"p":0.53,"t":0.54,"j":0.53,"g":0.54,"h":0.52,"i":0.50},
{"d":"2019-03","a":0.46,"n":0.45,"s":0.47,"p":0.49,"t":0.50,"j":0.49,"g":0.50,"h":0.48,"i":0.46},
{"d":"2019-05","a":0.56,"n":0.55,"s":0.57,"p":0.59,"t":0.60,"j":0.59,"g":0.60,"h":0.58,"i":0.56},
{"d":"2019-07","a":0.50,"n":0.49,"s":0.51,"p":0.53,"t":0.54,"j":0.53,"g":0.54,"h":0.52,"i":0.50},
{"d":"2019-09","a":0.63,"n":0.55,"s":0.57,"p":0.61,"t":0.62,"j":0.60,"g":0.60,"h":0.58,"i":0.56},
{"d":"2019-11","a":0.48,"n":0.47,"s":0.49,"p":0.51,"t":0.52,"j":0.51,"g":0.52,"h":0.50,"i":0.48},
{"d":"2020-01","a":0.42,"n":0.42,"s":0.44,"p":0.46,"t":0.46,"j":0.46,"g":0.47,"h":0.45,"i":0.43},
{"d":"2020-02","a":0.44,"n":0.47,"s":0.49,"p":0.51,"t":0.52,"j":0.51,"g":0.52,"h":0.50,"i":0.48},
{"d":"2020-03","a":0.80,"n":0.91,"s":0.93,"p":1.02,"t":1.05,"j":1.00,"g":0.98,"h":0.95,"i":0.93},
{"d":"2020-04","a":1.20,"n":1.21,"s":1.23,"p":1.29,"t":1.32,"j":1.29,"g":1.28,"h":1.25,"i":1.22},
{"d":"2020-05","a":1.22,"n":1.16,"s":1.18,"p":1.25,"t":1.28,"j":1.24,"g":1.23,"h":1.20,"i":1.17},
{"d":"2020-06","a":1.00,"n":0.96,"s":0.98,"p":1.03,"t":1.05,"j":1.02,"g":1.03,"h":1.00,"i":0.98},
{"d":"2020-07","a":0.88,"n":0.81,"s":0.83,"p":0.88,"t":0.90,"j":0.88,"g":0.88,"h":0.85,"i":0.83},
{"d":"2020-08","a":0.80,"n":0.71,"s":0.73,"p":0.77,"t":0.78,"j":0.77,"g":0.78,"h":0.75,"i":0.73},
{"d":"2020-09","a":0.70,"n":0.61,"s":0.63,"p":0.67,"t":0.68,"j":0.67,"g":0.68,"h":0.65,"i":0.63},
{"d":"2020-10","a":0.65,"n":0.58,"s":0.60,"p":0.63,"t":0.64,"j":0.63,"g":0.64,"h":0.62,"i":0.60},
{"d":"2020-11","a":0.60,"n":0.54,"s":0.56,"p":0.59,"t":0.60,"j":0.59,"g":0.60,"h":0.58,"i":0.56}
]},
"transform":[
{"fold":["a","n","s","p","t","j","g","h","i"],"as":["k","v"]},
{"lookup":"k","from":{"data":{"name":"names"},"key":"k","fields":["serie"]}}
],
"mark":{"type":"line","strokeWidth":2.8,"clip":true},
"encoding":{
"x":{"field":"d","type":"temporal",
 "scale":{"domain":[{"year":1982,"month":2,"date":28},{"year":2022,"month":9,"date":1}],"nice":false},
 "axis":{"title":null,"values":[{"year":1985,"month":1,"date":1},{"year":1990,"month":1,"date":1},{"year":1995,"month":1,"date":1},{"year":2000,"month":1,"date":1},{"year":2005,"month":1,"date":1},{"year":2010,"month":1,"date":1},{"year":2015,"month":1,"date":1},{"year":2020,"month":1,"date":1}],
  "format":"%Y","labelExpr":"year(datum.value) % 10 == 0 ? datum.label : ''",
  "domain":false,"ticks":false,"tickSize":0,"labelFontSize":25,"labelColor":"#4D4D4D","labelPadding":14,"labelFlush":false,"labelOverlap":false,
  "gridColor":"#EBEBEB","gridWidth":{"condition":{"test":"year(datum.value) % 10 == 0","value":2},"value":1}}},
"y":{"field":"v","type":"quantitative",
 "scale":{"domain":[0.005,7.145],"nice":false,"zero":false},
 "axis":{"title":"Volatilidad","values":[1,2,3,4,5,6,7],"labelExpr":"datum.value % 2 == 0 ? datum.label : ''",
  "domain":false,"ticks":false,"tickSize":0,"labelFontSize":25,"labelColor":"#4D4D4D","labelPadding":17,
  "titleFontSize":34,"titleFontWeight":"normal","titleColor":"#000000","titlePadding":14,
  "gridColor":"#EBEBEB","gridWidth":{"condition":{"test":"datum.value % 2 == 0","value":2},"value":1}}},
"color":{"field":"serie","type":"nominal",
 "scale":{"domain":["apaarch_t","garch_normal","garch_Snormal","garch_st","garch_t","gjr_t","Tgarch_normal","Tgarch_normal.1","TSgarch_normal"],
  "range":["#333333","#5A5A5A","#737373","#878787","#989898","#A7A7A7","#B4B4B4","#C1C1C1","#CCCCCC"]},
 "legend":{"orient":"none","legendX":510,"legendY":27,"title":null,"symbolType":"stroke","symbolSize":1681,"symbolStrokeWidth":2.5,
  "labelFontSize":27,"labelColor":"#000000","labelOffset":24,"rowPadding":20,"padding":0,"labelLimit":400}}
}
}
